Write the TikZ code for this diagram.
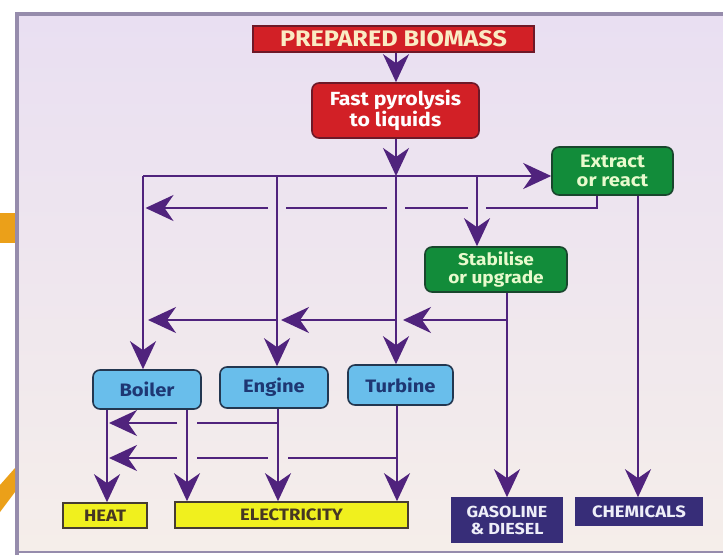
\documentclass[tikz,border=0pt]{standalone}
\usepackage{fontspec}
\setmainfont{Fira Sans}
\newfontfamily\boxfont[FakeStretch=1.12]{Fira Sans}
\usetikzlibrary{arrows.meta}
\definecolor{purp}{RGB}{80,35,125}
\definecolor{redfill}{RGB}{210,32,38}
\definecolor{redline}{RGB}{110,25,40}
\definecolor{cream}{RGB}{250,236,196}
\definecolor{grfill}{RGB}{18,140,58}
\definecolor{grline}{RGB}{25,70,45}
\definecolor{grtext}{RGB}{232,250,205}
\definecolor{blfill}{RGB}{105,190,235}
\definecolor{blline}{RGB}{35,55,80}
\definecolor{bltext}{RGB}{30,55,115}
\definecolor{yefill}{RGB}{240,240,30}
\definecolor{yeline}{RGB}{70,60,50}
\definecolor{yetext}{RGB}{70,55,35}
\definecolor{navy}{RGB}{55,45,120}
\definecolor{navytext}{RGB}{238,238,248}
\definecolor{paneltop}{RGB}{233,223,242}
\definecolor{panelbot}{RGB}{245,238,234}
\definecolor{panelline}{RGB}{150,140,172}
\definecolor{orangebit}{RGB}{235,160,25}
\begin{document}
\begin{tikzpicture}[x=1pt,y=-1pt,
  conn/.style={draw=purp, line width=2.4pt},
  arr/.style={-{Stealth[length=28pt,width=26pt,inset=9pt]}},
  boxbase/.style={line width=1.6pt, inner sep=0pt, align=center},
  redbox/.style={boxbase, draw=redline, fill=redfill, text=white, rounded corners=7pt},
  greenbox/.style={boxbase, draw=grline, fill=grfill, text=grtext, rounded corners=7pt},
  bluebox/.style={boxbase, draw=blline, fill=blfill, text=bltext, rounded corners=7pt},
  yelbox/.style={boxbase, draw=yeline, fill=yefill, text=yetext},
  navybox/.style={boxbase, draw=navy, fill=navy, text=navytext}]
\useasboundingbox (0,0) rectangle (723,555);
\fill[white] (0,0) rectangle (723,555);
% panel
\shade[top color=paneltop, bottom color=panelbot] (17,14) rectangle (723,552);
\draw[panelline, line width=4pt] (17,555) -- (17,14) -- (723,14);
\draw[panelline, line width=1.2pt] (17,552) -- (723,552);
% orange bits at the left edge
\fill[orangebit] (0,213) rectangle (15,243);
\fill[orangebit] (0,485) -- (15,468) -- (15,492) -- (0,512) -- cycle;

% nodes
\node[redbox, rounded corners=0pt, minimum width=281pt, minimum height=26pt,
      text=cream, font=\boxfont\bfseries\fontsize{22.5}{22}\selectfont] (prep) at (393.5,39) {PREPARED BIOMASS};
\node[redbox, minimum width=167pt, minimum height=55pt,
      font=\boxfont\bfseries\fontsize{19}{19.5}\selectfont] (pyro) at (395.5,110.5) {Fast pyrolysis\\to liquids};
\node[greenbox, minimum width=121pt, minimum height=48pt,
      font=\boxfont\bfseries\fontsize{18}{18.5}\selectfont] (ext) at (612.5,171) {Extract\\or react};
\node[greenbox, minimum width=142pt, minimum height=45pt,
      font=\boxfont\bfseries\fontsize{17}{17.5}\selectfont] (stab) at (496,269.5) {Stabilise\\or upgrade};
\node[bluebox, minimum width=108pt, minimum height=39pt,
      font=\boxfont\bfseries\fontsize{18}{18}\selectfont] (boiler) at (147,389.5) {Boiler};
\node[bluebox, minimum width=108pt, minimum height=41pt,
      font=\boxfont\bfseries\fontsize{18}{18}\selectfont] (engine) at (274,387.5) {Engine};
\node[bluebox, minimum width=105pt, minimum height=40pt,
      font=\boxfont\bfseries\fontsize{18}{18}\selectfont] (turbine) at (400.5,385) {Turbine};
\node[yelbox, minimum width=84pt, minimum height=25pt,
      font=\boxfont\bfseries\fontsize{16.5}{16}\selectfont] (heat) at (105,515.5) {HEAT};
\node[yelbox, minimum width=233pt, minimum height=26pt,
      font=\boxfont\bfseries\fontsize{16.5}{16}\selectfont] (elec) at (291.5,515) {ELECTRICITY};
\node[navybox, minimum width=110pt, minimum height=44pt,
      font=\boxfont\bfseries\fontsize{16}{17}\selectfont] (gas) at (507,520) {GASOLINE\\\& DIESEL};
\node[navybox, minimum width=126pt, minimum height=27pt,
      font=\boxfont\bfseries\fontsize{16.5}{16}\selectfont] (chem) at (639,511.5) {CHEMICALS};

% named points
\coordinate (cB) at (143,176);
\coordinate (cE) at (277,176);
\coordinate (cT) at (396,176);
\coordinate (cS) at (477,176);
\coordinate (xo) at (597,208);
\coordinate (xc) at (638,208);
\coordinate (sd) at (507,320);
\coordinate (sT) at (396,320);
\coordinate (sE) at (277,320);
\coordinate (sB) at (143,320);
\coordinate (bh) at (107,440);
\coordinate (be) at (187,440);
\coordinate (eo) at (278,440);
\coordinate (to) at (397,440);

% top connectors
\draw[conn,arr] (prep.south -| cT) -- (pyro.north -| cT);
\draw[conn,arr] (pyro.south -| cT) -- (cT);
\draw[conn,arr] (cB) -- (ext.west |- cB);
\draw[conn,arr] (cB) -- (boiler.north -| cB);
\draw[conn,arr] (cE) -- (engine.north -| cE);
\draw[conn,arr] (cT) -- (turbine.north -| cT);
\draw[conn,arr] (cS) -- (stab.north -| cS);

% extract back to the boiler line (broken where it crosses)
\draw[conn,arr] (ext.south -| xo) -- (xo) -- (486,208) (468,208) -- (405,208)
      (387,208) -- (286,208) (268,208) -- (145.5,208);
\draw[conn,arr] (ext.south -| xc) -- (chem.north -| xc);

% stabilise
\draw[conn,arr] (stab.south -| sd) -- (gas.north -| sd);
\draw[conn,arr] (sd) -- ([xshift=7pt]sT);
\draw[conn,arr] (sT) -- ([xshift=4pt]sE);
\draw[conn,arr] (sE) -- ([xshift=5pt]sB);

% bottom
\draw[conn,arr] (boiler.south -| bh) -- (heat.north -| bh);
\draw[conn,arr] (boiler.south -| be) -- (elec.north -| be);
\draw[conn,arr] (engine.south -| eo) -- (elec.north -| eo);
\draw[conn,arr] (turbine.south -| to) -- (elec.north -| to);
\draw[conn,arr] (eo |- 0,423) -- (197,423) (177,423) -- (109,423);
\draw[conn,arr] (to |- 0,458) -- (288,458) (268,458) -- (197,458) (177,458) -- (109,458);
\end{tikzpicture}
\end{document}
